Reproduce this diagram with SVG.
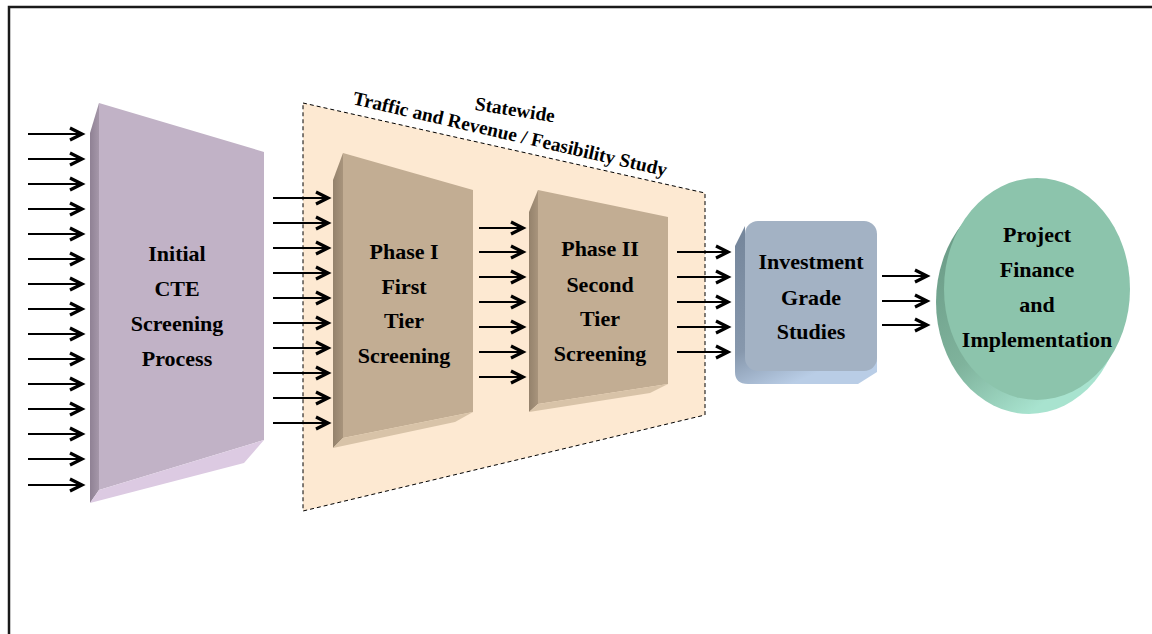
<svg xmlns="http://www.w3.org/2000/svg" width="1152" height="634" viewBox="0 0 1152 634">
  <style>
    .lbl { font-family: "Liberation Serif", "Times New Roman", serif; font-weight: bold; font-size: 22px; fill: #000; text-anchor: middle; }
    .ttl { font-family: "Liberation Serif", "Times New Roman", serif; font-weight: bold; font-size: 19.3px; fill: #000; }
    .arr { stroke: #000; stroke-width: 2.2; fill: none; marker-end: url(#head); }
  </style>
  <defs>
    <marker id="head" markerUnits="userSpaceOnUse" markerWidth="20" markerHeight="20" viewBox="-16 -10 20 20" refX="0" refY="0" orient="auto">
      <path d="M-12,-6 L0,0 L-12,6" fill="none" stroke="#000" stroke-width="3.2" stroke-linejoin="miter"/>
    </marker>
    <linearGradient id="cteSide" x1="0" y1="0" x2="1" y2="0">
      <stop offset="0" stop-color="#8f8194"/>
      <stop offset="1" stop-color="#a597a9"/>
    </linearGradient>
    <linearGradient id="phSide" x1="0" y1="0" x2="1" y2="0">
      <stop offset="0" stop-color="#94826c"/>
      <stop offset="1" stop-color="#a8947c"/>
    </linearGradient>
    <linearGradient id="invBack" x1="0" y1="0" x2="0.4" y2="1">
      <stop offset="0" stop-color="#74859a"/>
      <stop offset="0.7" stop-color="#8798ad"/>
      <stop offset="1" stop-color="#b9cde6"/>
    </linearGradient>
    <linearGradient id="pfBack" x1="0" y1="0.2" x2="0.5" y2="1">
      <stop offset="0" stop-color="#6a9a86"/>
      <stop offset="0.6" stop-color="#7fb39c"/>
      <stop offset="1" stop-color="#a8e3cf"/>
    </linearGradient>
  </defs>

  <!-- outer frame -->
  <path d="M9,634 L9,7 L1152,7" fill="none" stroke="#1a1a1a" stroke-width="2.5"/>

  <!-- study region -->
  <g id="study-region">
    <polygon points="303,103 705,193 705,415 303,511" fill="#fde9d2" stroke="#000" stroke-width="1" stroke-dasharray="4,3"/>
    <text class="ttl" transform="translate(514,116) rotate(9)" text-anchor="middle">Statewide</text>
    <text class="ttl" transform="translate(352,104) rotate(13)">Traffic and Revenue / Feasibility Study</text>
  </g>

  <!-- Initial CTE screening -->
  <g id="cte">
    <polygon points="99,103 264,152 264,440 99,490" fill="#c1b2c6"/>
    <polygon points="99,103 99,490 90,503 90,133" fill="url(#cteSide)"/>
    <polygon points="99,490 264,440 244,463 90,503" fill="#dccae2"/>
    <text class="lbl" x="177" y="261">Initial</text>
    <text class="lbl" x="177" y="296">CTE</text>
    <text class="lbl" x="177" y="331">Screening</text>
    <text class="lbl" x="177" y="366">Process</text>
  </g>

  <!-- Phase I -->
  <g id="phase1">
    <polygon points="343,153 473,190 473,412 343,438" fill="#c2ad93"/>
    <polygon points="343,153 343,438 333,448 333,180" fill="url(#phSide)"/>
    <polygon points="343,438 473,412 455,422 333,448" fill="#d8c3a8"/>
    <text class="lbl" x="404" y="259">Phase I</text>
    <text class="lbl" x="404" y="294">First</text>
    <text class="lbl" x="404" y="328">Tier</text>
    <text class="lbl" x="404" y="363">Screening</text>
  </g>

  <!-- Phase II -->
  <g id="phase2">
    <polygon points="538,190 668,217 668,384 538,404" fill="#c2ad93"/>
    <polygon points="538,190 538,404 529,412 529,212" fill="url(#phSide)"/>
    <polygon points="538,404 668,384 650,393 529,412" fill="#d8c3a8"/>
    <text class="lbl" x="600" y="256">Phase II</text>
    <text class="lbl" x="600" y="292">Second</text>
    <text class="lbl" x="600" y="326">Tier</text>
    <text class="lbl" x="600" y="361">Screening</text>
  </g>

  <!-- Investment grade studies -->
  <g id="investment">
    <path d="M745,226 L735,246 L735,372 Q735,384 748,384 L858,384 L877,372 L877,240 L745,240 Z" fill="url(#invBack)"/>
    <rect x="745" y="221" width="132" height="150" rx="13" fill="#a3b2c4"/>
    <text class="lbl" x="811" y="269">Investment</text>
    <text class="lbl" x="811" y="305">Grade</text>
    <text class="lbl" x="811" y="339">Studies</text>
  </g>

  <!-- Project finance and implementation -->
  <g id="project">
    <ellipse cx="1029" cy="302" rx="93" ry="112" fill="url(#pfBack)"/>
    <ellipse cx="1037" cy="289" rx="93" ry="111" fill="#8cc4ac"/>
    <text class="lbl" x="1037" y="242">Project</text>
    <text class="lbl" x="1037" y="277">Finance</text>
    <text class="lbl" x="1037" y="312">and</text>
    <text class="lbl" x="1037" y="347">Implementation</text>
  </g>

  <!-- connectors -->
  <g id="connectors">
    <!-- inputs to CTE -->
    <path class="arr" d="M28,134 H82"/>
    <path class="arr" d="M28,159 H82"/>
    <path class="arr" d="M28,184 H82"/>
    <path class="arr" d="M28,209 H82"/>
    <path class="arr" d="M28,234 H82"/>
    <path class="arr" d="M28,259 H82"/>
    <path class="arr" d="M28,284 H82"/>
    <path class="arr" d="M28,309 H82"/>
    <path class="arr" d="M28,334 H82"/>
    <path class="arr" d="M28,359 H82"/>
    <path class="arr" d="M28,384 H82"/>
    <path class="arr" d="M28,409 H82"/>
    <path class="arr" d="M28,434 H82"/>
    <path class="arr" d="M28,459 H82"/>
    <path class="arr" d="M28,485 H82"/>
    <!-- CTE to Phase I -->
    <path class="arr" d="M273,198 H328"/>
    <path class="arr" d="M273,223 H328"/>
    <path class="arr" d="M273,248 H328"/>
    <path class="arr" d="M273,273 H328"/>
    <path class="arr" d="M273,298 H328"/>
    <path class="arr" d="M273,323 H328"/>
    <path class="arr" d="M273,348 H328"/>
    <path class="arr" d="M273,373 H328"/>
    <path class="arr" d="M273,398 H328"/>
    <path class="arr" d="M273,423 H328"/>
    <!-- Phase I to Phase II -->
    <path class="arr" d="M479,228 H523"/>
    <path class="arr" d="M479,252 H523"/>
    <path class="arr" d="M479,277 H523"/>
    <path class="arr" d="M479,302 H523"/>
    <path class="arr" d="M479,327 H523"/>
    <path class="arr" d="M479,352 H523"/>
    <path class="arr" d="M479,377 H523"/>
    <!-- Phase II to Investment -->
    <path class="arr" d="M677,252 H728"/>
    <path class="arr" d="M677,277 H728"/>
    <path class="arr" d="M677,302 H728"/>
    <path class="arr" d="M677,327 H728"/>
    <path class="arr" d="M677,352 H728"/>
    <!-- Investment to Project -->
    <path class="arr" d="M882,276 H927"/>
    <path class="arr" d="M882,301 H927"/>
    <path class="arr" d="M882,325 H927"/>
  </g>
</svg>
